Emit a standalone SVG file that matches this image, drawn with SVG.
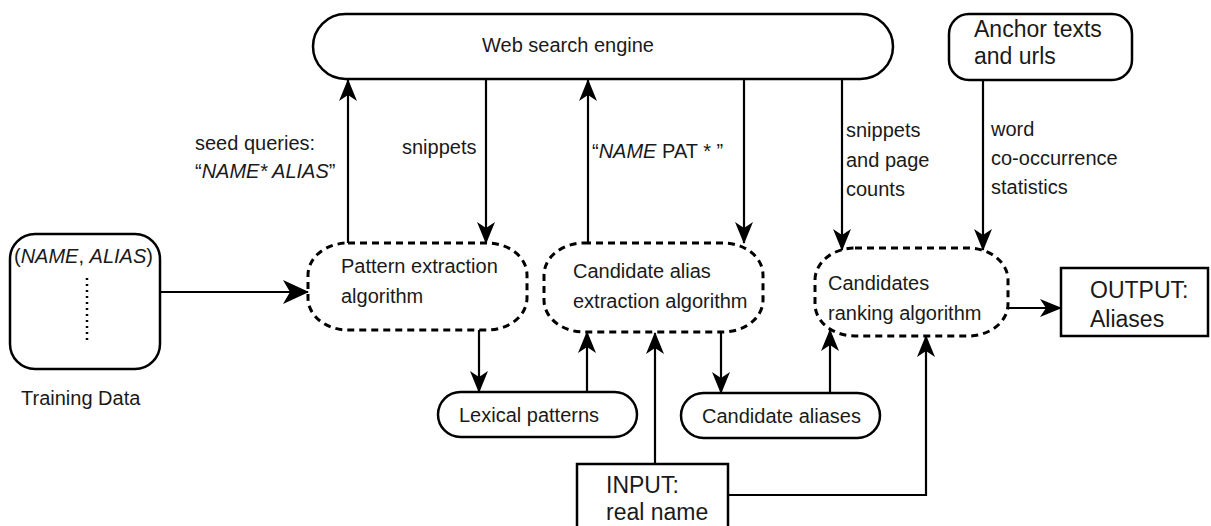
<svg xmlns="http://www.w3.org/2000/svg" width="1211" height="526" viewBox="0 0 1211 526">
<style>
text{font-family:"Liberation Sans",Arial,Helvetica,sans-serif;fill:#1a1a1a;font-size:20px}
.big{font-size:23px}
.it{font-style:italic}
.box{fill:#fff;stroke:#000;stroke-width:2.5}
.dash{fill:#fff;stroke:#000;stroke-width:3;stroke-dasharray:7 5}
.con{fill:none;stroke:#000;stroke-width:2.2}
</style>
<defs>
<marker id="ah" markerUnits="userSpaceOnUse" viewBox="0 0 22 18" refX="21" refY="9" markerWidth="22" markerHeight="18" orient="auto">
<path d="M0,0 L22,9 L0,18 L6,9 Z" fill="#000"/>
</marker>
<marker id="ahb" markerUnits="userSpaceOnUse" viewBox="0 0 26 24" refX="25" refY="12" markerWidth="26" markerHeight="24" orient="auto">
<path d="M0,0 L26,12 L0,24 L7,12 Z" fill="#000"/>
</marker>
</defs>
<rect width="1211" height="526" fill="#fff"/>

<g id="web-search-engine">
<rect class="box" x="313" y="14" width="580" height="65" rx="32.5"/>
<text x="482" y="52">Web search engine</text>
</g>

<g id="anchor-texts">
<rect class="box" x="949" y="14" width="183" height="66" rx="20"/>
<text class="big" x="974" y="37">Anchor texts</text>
<text class="big" x="974" y="64">and urls</text>
</g>

<g id="training-data">
<rect class="box" x="10" y="234" width="150" height="135" rx="25"/>
<text x="14" y="263">(<tspan class="it">NAME</tspan>, <tspan class="it">ALIAS</tspan>)</text>
<line x1="87" y1="278" x2="87" y2="342" stroke="#000" stroke-width="2.5" stroke-dasharray="2 4"/>
<text x="21" y="405">Training Data</text>
</g>

<g id="pattern-extraction">
<rect class="dash" x="308" y="243" width="219" height="87" rx="40" ry="32"/>
<text x="341" y="273">Pattern extraction</text>
<text x="341" y="303">algorithm</text>
</g>

<g id="candidate-alias-extraction">
<rect class="dash" x="544" y="243" width="219" height="89" rx="40" ry="32"/>
<text x="573" y="278">Candidate alias</text>
<text x="573" y="308">extraction algorithm</text>
</g>

<g id="candidates-ranking">
<rect class="dash" x="815" y="248" width="193" height="88" rx="40" ry="32"/>
<text x="828" y="290">Candidates</text>
<text x="828" y="320">ranking algorithm</text>
</g>

<g id="lexical-patterns">
<rect class="box" x="438" y="392" width="199" height="45" rx="22.5"/>
<text x="459" y="422">Lexical patterns</text>
</g>

<g id="candidate-aliases">
<rect class="box" x="681" y="393" width="199" height="45" rx="22.5"/>
<text x="702" y="423">Candidate aliases</text>
</g>

<g id="input">
<rect class="box" x="577" y="464" width="151" height="80"/>
<text class="big" x="606" y="493">INPUT:</text>
<text class="big" x="606" y="520">real name</text>
</g>

<g id="output">
<rect class="box" x="1061" y="268" width="147" height="68"/>
<text class="big" x="1090" y="298">OUTPUT:</text>
<text class="big" x="1090" y="327">Aliases</text>
</g>

<g id="connectors">
<line class="con" x1="348" y1="243" x2="348" y2="80" marker-end="url(#ah)"/>
<line class="con" x1="486" y1="79" x2="486" y2="243" marker-end="url(#ah)"/>
<line class="con" x1="588" y1="243" x2="588" y2="80" marker-end="url(#ah)"/>
<line class="con" x1="744" y1="79" x2="744" y2="243" marker-end="url(#ah)"/>
<line class="con" x1="842" y1="79" x2="842" y2="250" marker-end="url(#ah)"/>
<line class="con" x1="983" y1="80" x2="983" y2="250" marker-end="url(#ah)"/>
<line class="con" x1="160" y1="292" x2="308" y2="292" marker-end="url(#ahb)"/>
<line class="con" x1="479" y1="330" x2="479" y2="392" marker-end="url(#ah)"/>
<line class="con" x1="587" y1="392" x2="587" y2="332" marker-end="url(#ah)"/>
<line class="con" x1="655" y1="464" x2="655" y2="333" marker-end="url(#ah)"/>
<line class="con" x1="721" y1="332" x2="721" y2="393" marker-end="url(#ah)"/>
<line class="con" x1="830" y1="393" x2="830" y2="330" marker-end="url(#ah)"/>
<path class="con" d="M728,495 H926 V336" marker-end="url(#ah)"/>
<line class="con" x1="1008" y1="308" x2="1061" y2="308" marker-end="url(#ah)"/>
<text x="195" y="150">seed queries:</text>
<text x="195" y="178">“<tspan class="it">NAME* ALIAS</tspan>”</text>
<text x="402" y="154">snippets</text>
<text x="592" y="158">“<tspan class="it">NAME</tspan> PAT * ”</text>
<text x="846" y="137">snippets</text>
<text x="846" y="167">and page</text>
<text x="846" y="196">counts</text>
<text x="991" y="136">word</text>
<text x="991" y="165">co-occurrence</text>
<text x="991" y="194">statistics</text>
</g>
</svg>
